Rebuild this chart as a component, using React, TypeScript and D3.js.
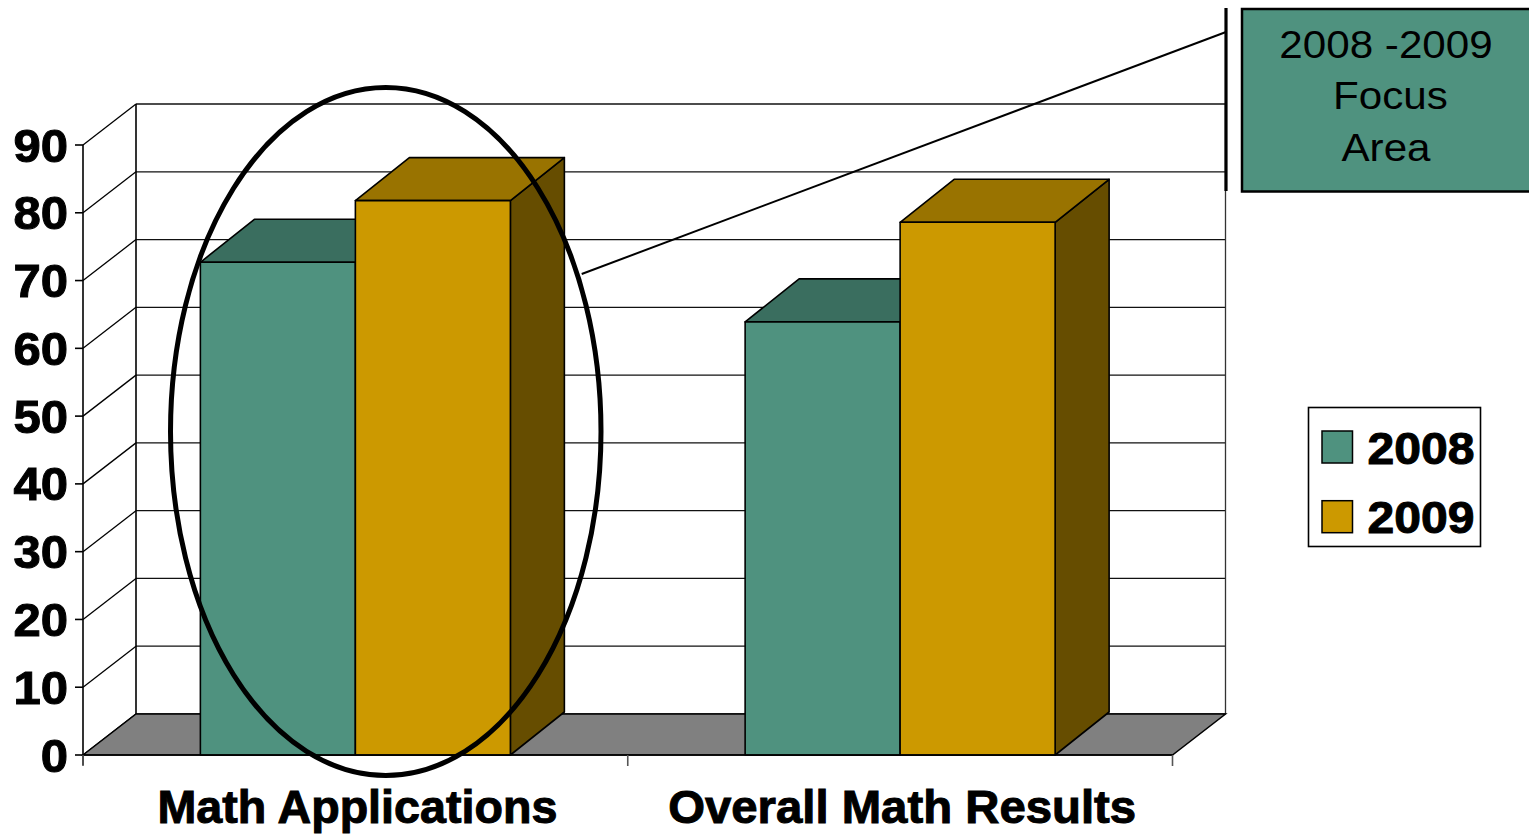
import React from "react";
import * as d3 from "d3";

const categories = ["Math Applications", "Overall Math Results"];
const seriesNames = ["2008", "2009"];
const values2008 = [72.7, 63.9];
const values2009 = [81.8, 78.6];
const yTicks = [0, 10, 20, 30, 40, 50, 60, 70, 80, 90];
const calloutLines = ["2008 -2009", "Focus", "Area"];

const W = 1529;
const H = 836;
const FONT = "'Liberation Sans', Arial, sans-serif";

const faces = {
  "2008": { front: "#4f927f", top: "#3a6e5f", side: "#2c5448" },
  "2009": { front: "#cc9900", top: "#997300", side: "#664d00" },
};

export default function App() {
  // front plane of the plot and the oblique depth offsets
  const x0 = 83;
  const x1 = 1172.5;
  const wall = { dx: 53, dy: -41 };
  const bar = { dx: 54, dy: -43 };

  const y = d3.scaleLinear().domain([0, 90]).range([755, 145]);
  const xBand = d3.scaleBand<string>().domain(categories).range([x0, x1]).paddingInner(0).paddingOuter(0);
  const groupW = 310;
  const xSeries = d3
    .scaleBand<string>()
    .domain(seriesNames)
    .range([0, groupW])
    .padding(0);

  const series = [
    { name: "2008", values: values2008 },
    { name: "2009", values: values2009 },
  ];

  const pts = (p: [number, number][]) => p.map((q) => q.join(",")).join(" ");

  const bars: React.ReactNode[] = [];
  categories.forEach((cat, ci) => {
    const gx = (xBand(cat) as number) + (xBand.bandwidth() - groupW) / 2;
    series.forEach((s) => {
      const c = faces[s.name as "2008" | "2009"];
      const bx = gx + (xSeries(s.name) as number);
      const bw = xSeries.bandwidth();
      const yt = y(s.values[ci]);
      const yb = y(0);
      bars.push(
        <g key={cat + s.name} stroke="#000" strokeWidth={1.6} strokeLinejoin="round">
          <polygon
            fill={c.side}
            points={pts([
              [bx + bw, yb],
              [bx + bw + bar.dx, yb + bar.dy],
              [bx + bw + bar.dx, yt + bar.dy],
              [bx + bw, yt],
            ])}
          />
          <polygon
            fill={c.top}
            points={pts([
              [bx, yt],
              [bx + bar.dx, yt + bar.dy],
              [bx + bw + bar.dx, yt + bar.dy],
              [bx + bw, yt],
            ])}
          />
          <rect x={bx} y={yt} width={bw} height={yb - yt} fill={c.front} />
        </g>
      );
    });
  });

  const bx0 = x0 + wall.dx;
  const bx1 = x1 + wall.dx;
  const labelWidths = [400, 468];
  // heavy weight for the bold labels
  const heavy = { stroke: "#000", strokeWidth: 1, paintOrder: "stroke" as const };

  return (
    <svg
      width={W}
      height={H}
      style={{ position: "absolute", left: 0, top: 0, background: "#fff" }}
      fontFamily={FONT}
    >
      {/* back wall gridlines */}
      {yTicks.map((t) => (
        <line
          key={"g" + t}
          x1={bx0}
          x2={bx1}
          y1={y(t) + wall.dy}
          y2={y(t) + wall.dy}
          stroke="#111"
          strokeWidth={1.3}
        />
      ))}
      {/* side wall gridlines */}
      {yTicks.map((t) => (
        <line
          key={"s" + t}
          x1={x0}
          y1={y(t)}
          x2={bx0}
          y2={y(t) + wall.dy}
          stroke="#000"
          strokeWidth={1.3}
        />
      ))}
      <line x1={bx0} x2={bx0} y1={y(90) + wall.dy} y2={y(0) + wall.dy} stroke="#000" strokeWidth={1.6} />
      <line x1={bx1} x2={bx1} y1={y(90) + wall.dy} y2={y(0) + wall.dy} stroke="#333" strokeWidth={1.3} />

      {/* floor */}
      <polygon
        fill="#808080"
        stroke="#000"
        strokeWidth={1.5}
        points={pts([
          [x0, y(0)],
          [bx0, y(0) + wall.dy],
          [bx1, y(0) + wall.dy],
          [x1, y(0)],
        ])}
      />

      {/* value axis */}
      <line x1={x0} x2={x0} y1={y(90)} y2={y(0) + 10} stroke="#000" strokeWidth={1.6} />
      {yTicks.map((t) => (
        <g key={"t" + t}>
          <line x1={x0 - 8} x2={x0} y1={y(t)} y2={y(t)} stroke="#000" strokeWidth={1.6} />
          <text
            x={68}
            y={y(t) + 16.5}
            textAnchor="end"
            fontSize={47}
            fontWeight="bold"
            fill="#000"
            textLength={String(t).length * 27.3}
            lengthAdjust="spacingAndGlyphs"
            {...heavy}
          >
            {t}
          </text>
        </g>
      ))}

      {bars}

      {/* category axis */}
      <line x1={x0} x2={x1} y1={y(0)} y2={y(0)} stroke="#000" strokeWidth={1.6} />
      {[x0, ...categories.map((c) => (xBand(c) as number) + xBand.bandwidth())].map((tx, i) => (
        <line key={"ct" + i} x1={tx} x2={tx} y1={y(0)} y2={y(0) + 11} stroke="#555" strokeWidth={1.6} />
      ))}
      {categories.map((c, i) => (
        <text
          key={c}
          x={(xBand(c) as number) + xBand.bandwidth() / 2 + 2}
          y={823}
          textAnchor="middle"
          fontSize={46}
          fontWeight="bold"
          textLength={labelWidths[i]}
          lengthAdjust="spacingAndGlyphs"
          fill="#000"
          {...heavy}
        >
          {c}
        </text>
      ))}

      {/* highlight ellipse and callout */}
      <ellipse cx={385.75} cy={431.5} rx={215.25} ry={344} fill="none" stroke="#000" strokeWidth={5} />
      <line x1={581.7} y1={274} x2={1226} y2={32} stroke="#000" strokeWidth={2} />
      <line x1={1226} x2={1226} y1={8} y2={191} stroke="#000" strokeWidth={3.2} />
      <rect x={1242} y={9} width={300} height={182.5} fill="#4f927f" stroke="#000" strokeWidth={2.5} />
      <g transform="translate(1386,0) scale(1.11,1)">
        {calloutLines.map((l, i) => (
          <text
            key={l}
            x={i === 1 ? 4 : 0}
            y={58 + i * 51.5}
            textAnchor="middle"
            fontSize={38}
            fill="#000"
          >
            {l}
          </text>
        ))}
      </g>

      {/* legend */}
      <rect x={1308.5} y={407.5} width={172} height={139} fill="#fff" stroke="#000" strokeWidth={1.6} />
      {seriesNames.map((n, i) => (
        <g key={n}>
          <rect
            x={1322}
            y={431 + i * 69.7}
            width={30.5}
            height={32}
            fill={faces[n as "2008" | "2009"].front}
            stroke="#000"
            strokeWidth={1.5}
          />
          <text
            x={1367.5}
            y={463.5 + i * 69.5}
            fontSize={44}
            fontWeight="bold"
            textLength={107}
            lengthAdjust="spacingAndGlyphs"
            fill="#000"
            {...heavy}
          >
            {n}
          </text>
        </g>
      ))}
    </svg>
  );
}
